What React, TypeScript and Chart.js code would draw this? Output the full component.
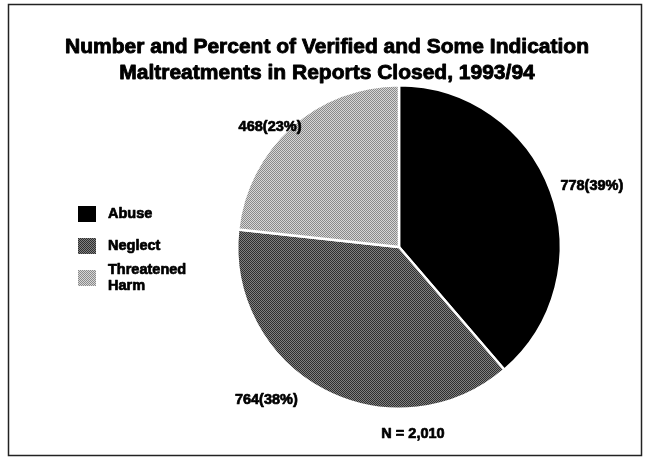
import React, { useEffect, useRef } from "react";
import { Chart, registerables } from "chart.js";
Chart.register(...registerables);

const TITLE_LINES = [
  "Number and Percent of Verified and Some Indication",
  "Maltreatments in Reports Closed, 1993/94",
];
const CATEGORIES = ["Abuse", "Neglect", "Threatened Harm"];
const LEGEND_LINES = [["Abuse"], ["Neglect"], ["Threatened", "Harm"]];
const COUNTS = [778, 764, 468];
const PERCENTS = [39, 38, 23];
const TOTAL_LABEL = "N = 2,010";

// label placement: angle (deg, clockwise from top) and distance as fraction of radius
const LABEL_ANGLES = [72.5, 221, 313];
const LABEL_DIST = [1.25, 1.25, 1.09];

const FONT = "'Liberation Sans', Arial, Helvetica, sans-serif";

function makePattern(base: string, dot: string): CanvasPattern | string {
  const c = document.createElement("canvas");
  c.width = 2;
  c.height = 2;
  const g = c.getContext("2d");
  if (!g) return base;
  g.fillStyle = base;
  g.fillRect(0, 0, 2, 2);
  g.fillStyle = dot;
  g.fillRect(0, 0, 1, 1);
  g.fillRect(1, 1, 1, 1);
  return g.createPattern(c, "repeat") || base;
}

function heavyText(ctx: CanvasRenderingContext2D, t: string, x: number, y: number, w: number) {
  ctx.lineWidth = w;
  ctx.lineJoin = "round";
  ctx.strokeStyle = "#000";
  ctx.strokeText(t, x, y);
  ctx.fillText(t, x, y);
}

export default function App() {
  const ref = useRef<HTMLCanvasElement | null>(null);

  useEffect(() => {
    if (!ref.current) return;
    const fills = [
      "#000000",
      makePattern("#808080", "#2e2e2e"),
      makePattern("#d6d6d6", "#8a8a8a"),
    ];

    const overlay = {
      id: "overlay",
      afterDraw(chart: any) {
        const ctx = chart.ctx as CanvasRenderingContext2D;
        ctx.save();
        // frame
        ctx.strokeStyle = "#222";
        ctx.lineWidth = 1.5;
        ctx.strokeRect(8.5, 4.5, 633, 451);

        // title
        ctx.fillStyle = "#000";
        ctx.textAlign = "center";
        ctx.textBaseline = "middle";
        ctx.font = `bold 21px ${FONT}`;
        TITLE_LINES.forEach((t, i) => heavyText(ctx, t, 327, 47 + i * 26, 0.9));

        // legend
        const legendY = [214, 246, 278];
        ctx.font = `bold 14.5px ${FONT}`;
        ctx.textAlign = "left";
        LEGEND_LINES.forEach((lines, i) => {
          ctx.fillStyle = fills[i] as any;
          ctx.fillRect(78, legendY[i] - 8, 18, 16);
          ctx.fillStyle = "#000";
          const n = lines.length;
          lines.forEach((l, j) => {
            heavyText(ctx, l, 108, legendY[i] + (j - (n - 1) / 2) * 16, 0.7);
          });
        });

        // slice labels
        const meta = chart.getDatasetMeta(0);
        const arc0 = meta.data[0];
        const cx = arc0.x;
        const cy = arc0.y;
        const r = arc0.outerRadius;
        ctx.textAlign = "center";
        COUNTS.forEach((v, i) => {
          const a = (LABEL_ANGLES[i] * Math.PI) / 180;
          const d = r * LABEL_DIST[i];
          const x = cx + Math.sin(a) * d;
          const y = cy - Math.cos(a) * d;
          heavyText(ctx, `${v}(${PERCENTS[i]}%)`, x, y, 0.7);
        });
        heavyText(ctx, TOTAL_LABEL, cx + 14, cy + r + 25, 0.7);
        ctx.restore();
      },
    };

    const chart = new Chart(ref.current, {
      type: "pie",
      data: {
        labels: CATEGORIES,
        datasets: [
          {
            data: COUNTS,
            backgroundColor: fills as any,
            borderColor: "#ffffff",
            borderWidth: 2.5,
          },
        ],
      },
      options: {
        responsive: false,
        animation: false,
        devicePixelRatio: 1,
        layout: { padding: { left: 236, right: 94, top: 84, bottom: 58 } },
        plugins: {
          legend: { display: false },
          title: { display: false },
          tooltip: { enabled: false },
        },
      },
      plugins: [overlay],
    });
    return () => chart.destroy();
  }, []);

  return (
    <div style={{ position: "fixed", left: 0, top: 0, width: 656, height: 468, background: "#fff" }}>
      <canvas ref={ref} width={656} height={468} style={{ display: "block" }} />
    </div>
  );
}
